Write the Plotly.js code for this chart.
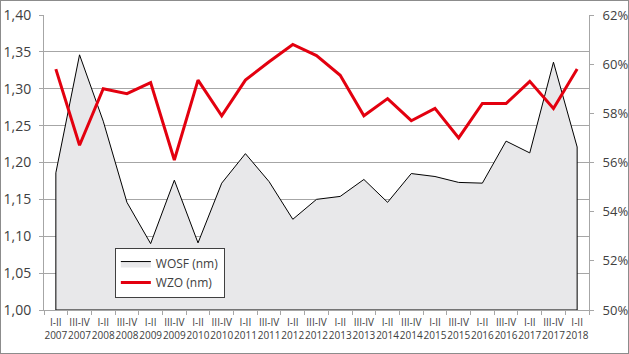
<!DOCTYPE html>
<html>
<head>
<meta charset="utf-8">
<script src="https://cdn.plot.ly/plotly-3.0.1.min.js"></script>
<style>
  html, body { margin: 0; padding: 0; background: #fff; }
  #wrap { position: relative; width: 629px; height: 354px; }
  #chart { width: 629px; height: 354px; }
  #frame { position: absolute; left: 0; top: 0; width: 629px; height: 354px; box-sizing: border-box; border: 1px solid #8c8c8c; pointer-events: none; }
</style>
</head>
<body>
<div id="wrap"><div id="chart"></div><div id="frame"></div></div>
<script>
const years = ["2007","2007","2008","2008","2009","2009","2010","2010","2011","2011","2012","2012","2013","2013","2014","2014","2015","2015","2016","2016","2017","2017","2018"];
const periods = ["I-II","III-IV","I-II","III-IV","I-II","III-IV","I-II","III-IV","I-II","III-IV","I-II","III-IV","I-II","III-IV","I-II","III-IV","I-II","III-IV","I-II","III-IV","I-II","III-IV","I-II"];
const categories = periods.map((p, i) => p + "<br>" + years[i]);

// WOSF (nm), left axis
const wosf = [1.186, 1.346, 1.256, 1.146, 1.090, 1.176, 1.091, 1.172, 1.212, 1.174, 1.123, 1.150, 1.154, 1.177, 1.146, 1.185, 1.181, 1.173, 1.172, 1.229, 1.213, 1.336, 1.221];
// WZO (nm), right axis, percent
const wzo = [59.8, 56.7, 59.0, 58.8, 59.25, 56.1, 59.35, 57.9, 59.35, 60.1, 60.8, 60.35, 59.55, 57.9, 58.6, 57.7, 58.2, 57.0, 58.4, 58.4, 59.3, 58.2, 59.8];

const leftRange = [1.0, 1.4];
const rightRange = [50, 62];

const n = categories.length;
const areaX = [categories[0]].concat(categories, [categories[n - 1], categories[0]]);
const areaY = [leftRange[0]].concat(wosf, [leftRange[0], leftRange[0]]);

const font = "Open Sans, Noto Sans, sans-serif";
const gridCol = "#a6a6a6";

const traces = [
  {
    name: "WOSF (nm)",
    x: areaX, y: areaY,
    type: "scatter", mode: "lines",
    fill: "toself", fillcolor: "#e8e8ea",
    line: { color: "#000000", width: 1 },
    yaxis: "y"
  },
  {
    name: "WZO (nm)",
    x: categories, y: wzo,
    type: "scatter", mode: "lines",
    line: { color: "#e3000f", width: 3 },
    yaxis: "y2"
  }
];

const layout = {
  width: 629, height: 354,
  margin: { l: 44, r: 40, t: 15, b: 44 },
  paper_bgcolor: "rgba(0,0,0,0)",
  plot_bgcolor: "#ffffff",
  separators: ",.",
  font: { family: font, color: "#404040" },
  showlegend: true,
  legend: {
    x: 0.13, y: 0.21, xanchor: "left", yanchor: "top",
    bgcolor: "#ffffff", bordercolor: "#404040", borderwidth: 1,
    font: { family: font, size: 12, color: "#404040" },
    tracegroupgap: 0, itemwidth: 30
  },
  xaxis: {
    type: "category",
    range: [-0.5, n - 0.5],
    categoryorder: "array", categoryarray: categories,
    tickangle: 0,
    tickfont: { family: font, size: 10, color: "#404040" },
    ticks: "outside", ticklen: 4, tickcolor: gridCol, tickson: "boundaries",
    ticklabelstandoff: 3,
    showgrid: false,
    showline: true, linecolor: gridCol, linewidth: 1,
    zeroline: false, fixedrange: true
  },
  yaxis: {
    range: leftRange, dtick: 0.05, tick0: 1.0,
    tickformat: ".2f",
    tickfont: { family: font, size: 14, color: "#404040" },
    ticks: "outside", ticklen: 4, tickcolor: gridCol,
    ticklabelstandoff: 5,
    showgrid: true, gridcolor: gridCol, gridwidth: 1,
    showline: true, linecolor: gridCol, linewidth: 1,
    zeroline: false, fixedrange: true
  },
  yaxis2: {
    overlaying: "y", side: "right",
    range: rightRange, dtick: 2, tick0: 50,
    ticksuffix: "%",
    tickfont: { family: font, size: 13, color: "#404040" },
    ticks: "outside", ticklen: 4, tickcolor: gridCol,
    ticklabelstandoff: 6,
    showgrid: false,
    showline: true, linecolor: gridCol, linewidth: 1,
    zeroline: false, fixedrange: true
  }
};

Plotly.newPlot("chart", traces, layout, { displayModeBar: false, staticPlot: true });
</script>
</body>
</html>
